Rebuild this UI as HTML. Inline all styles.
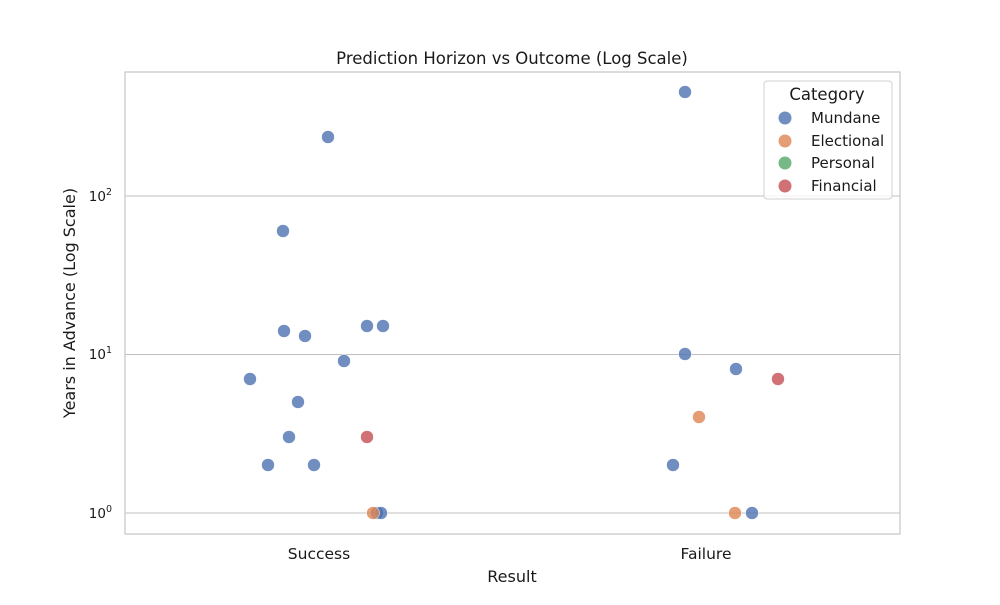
<!DOCTYPE html>
<html><head><meta charset="utf-8"><style>
html,body{margin:0;padding:0;background:#fff;}
svg text{font-family:"DejaVu Sans","Liberation Sans",sans-serif;fill:#1a1a1a;}
</style></head><body>
<svg width="1000" height="600" viewBox="0 0 1000 600" xmlns="http://www.w3.org/2000/svg">
<rect width="1000" height="600" fill="#fff"/>
<g stroke="#c0c0c0" stroke-width="1">
<line x1="125" y1="196" x2="900" y2="196"/>
<line x1="125" y1="354.5" x2="900" y2="354.5"/>
<line x1="125" y1="513" x2="900" y2="513"/>
</g>
<rect x="125" y="72" width="775" height="462" fill="none" stroke="#c8c8c8" stroke-width="1.25"/>
<text x="512" y="64" font-size="16.5" text-anchor="middle">Prediction Horizon vs Outcome (Log Scale)</text>
<g font-size="13.5" text-anchor="end">
<text x="112" y="201">10<tspan font-size="9.5" dy="-6">2</tspan></text>
<text x="112" y="359">10<tspan font-size="9.5" dy="-6">1</tspan></text>
<text x="112" y="518">10<tspan font-size="9.5" dy="-6">0</tspan></text>
</g>
<g font-size="15.5" text-anchor="middle">
<text x="319" y="559">Success</text>
<text x="706" y="559">Failure</text>
<text x="512" y="582" font-size="16">Result</text>
<text transform="translate(75,303) rotate(-90)" font-size="16">Years in Advance (Log Scale)</text>
</g>
<g fill="#4c72b0" fill-opacity="0.8" stroke="#fff" stroke-width="0.5">
<circle cx="250" cy="379" r="6.5"/><circle cx="268" cy="465" r="6.5"/>
<circle cx="283" cy="231" r="6.5"/><circle cx="284" cy="331" r="6.5"/>
<circle cx="289" cy="437" r="6.5"/><circle cx="298" cy="402" r="6.5"/>
<circle cx="305" cy="336" r="6.5"/><circle cx="314" cy="465" r="6.5"/>
<circle cx="328" cy="137" r="6.5"/><circle cx="344" cy="361" r="6.5"/>
<circle cx="367" cy="326" r="6.5"/><circle cx="383" cy="326" r="6.5"/>
<circle cx="377" cy="513" r="6.5"/><circle cx="381" cy="513" r="6.5"/>
<circle cx="685" cy="92" r="6.5"/><circle cx="685" cy="354" r="6.5"/>
<circle cx="736" cy="369" r="6.5"/><circle cx="673" cy="465" r="6.5"/>
<circle cx="752" cy="513" r="6.5"/>
</g>
<g fill="#dd8452" fill-opacity="0.8" stroke="#fff" stroke-width="0.5">
<circle cx="373" cy="513" r="6.5"/><circle cx="699" cy="417" r="6.5"/><circle cx="735" cy="513" r="6.5"/>
</g>
<g fill="#c44e52" fill-opacity="0.8" stroke="#fff" stroke-width="0.5">
<circle cx="367" cy="437" r="6.5"/><circle cx="778" cy="379" r="6.5"/>
</g>
<rect x="764" y="81" width="128" height="118" rx="3" fill="#fff" fill-opacity="0.8" stroke="#d0d0d0"/>
<text x="827" y="100" font-size="16.5" text-anchor="middle">Category</text>
<g font-size="15">
<circle cx="785" cy="118" r="6.5" fill="#4c72b0" fill-opacity="0.8"/><text x="811" y="123">Mundane</text>
<circle cx="785" cy="141" r="6.5" fill="#dd8452" fill-opacity="0.8"/><text x="811" y="146">Electional</text>
<circle cx="785" cy="163" r="6.5" fill="#55a868" fill-opacity="0.8"/><text x="811" y="168">Personal</text>
<circle cx="785" cy="186" r="6.5" fill="#c44e52" fill-opacity="0.8"/><text x="811" y="191">Financial</text>
</g>
</svg>
</body></html>
